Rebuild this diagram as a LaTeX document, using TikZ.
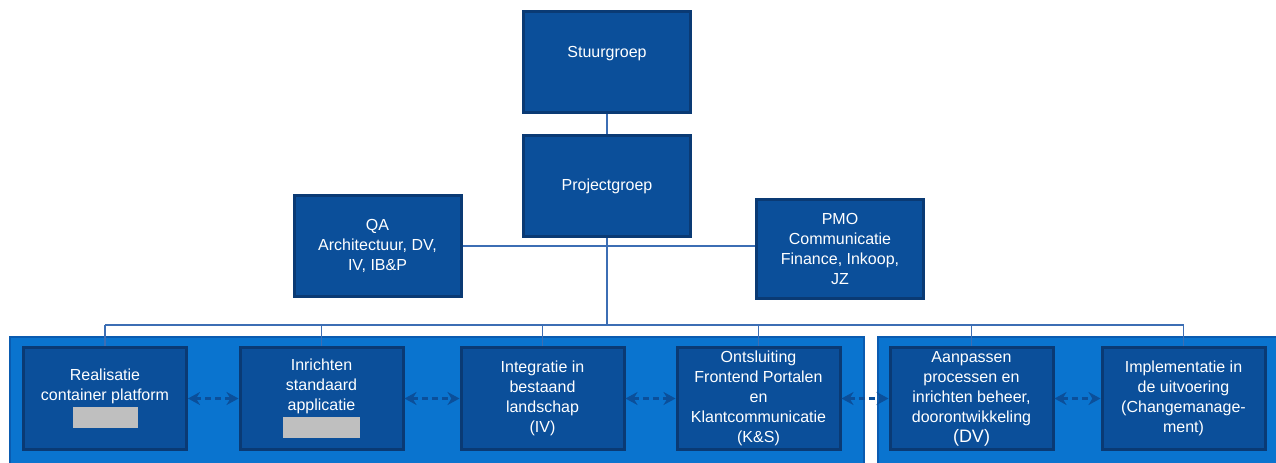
\documentclass[tikz,border=0pt]{standalone}
\usepackage{fontspec}
\setmainfont{Liberation Sans}
\usetikzlibrary{arrows.meta}
\definecolor{boxblue}{HTML}{0B4F9A}
\definecolor{boxedge}{HTML}{0A3A74}
\definecolor{areablue}{HTML}{0A74CF}
\definecolor{areaedge}{HTML}{0A5BB0}
\definecolor{linkblue}{HTML}{3C6EB4}
\definecolor{maskgrey}{HTML}{BFBFBF}
\tikzstyle{unit} = [draw=boxedge,line width=1.5pt,fill=boxblue,text=white,align=center,inner sep=1pt,font=\fontsize{8}{10}\selectfont]
\tikzstyle{topunit} = [unit,minimum width=83.5pt,minimum height=50.5pt]
\tikzstyle{work} = [unit,minimum width=81.5pt,minimum height=51pt]
\tikzstyle{link} = [draw=linkblue,line width=0.6pt]
\tikzstyle{dep} = [boxblue,line width=1.1pt,dash pattern=on 3pt off 2pt,{Stealth[length=6pt,width=6.5pt]}-{Stealth[length=6pt,width=6.5pt]}]
\newcommand{\masked}[1]{\textcolor{maskgrey}{\rule[-4pt]{#1}{10.5pt}}}

\begin{document}
\begin{tikzpicture}[x=0.5pt,y=-0.5pt]
	\useasboundingbox (0,0) rectangle (1276,462);
	\draw[areaedge,fill=areablue,line width=1pt] (10,337) rectangle (864,470);
	\draw[areaedge,fill=areablue,line width=1pt] (878,337) rectangle (1285,470);

	\node[topunit] (stuur) at (607,62) {Stuurgroep\\~};
	\node[topunit] (proj) at (607,186) {Projectgroep};
	\node[topunit] (qa) at (377.5,246) {QA\\Architectuur, DV,\\IV, IB\&P};
	\node[topunit,minimum height=49.5pt] (pmo) at (840,249) {PMO\\Communicatie\\Finance, Inkoop,\\JZ};

	\node[work] (real) at (105,398.5) {Realisatie\\container platform\\\masked{32.5pt}};
	\node[work] (inr) at (321.5,398.5) {Inrichten\\standaard\\applicatie\\\masked{38.5pt}};
	\node[work] (integ) at (542.5,398.5) {Integratie in\\bestaand\\landschap\\(IV)};
	\node[work] (ontsl) at (758.5,398.5) {Ontsluiting\\Frontend Portalen\\en\\Klantcommunicatie\\(K\&S)};
	\node[work] (aanp) at (971.5,398.5) {Aanpassen\\processen en\\inrichten beheer,\\doorontwikkeling\\{\fontsize{9}{10}\selectfont(DV)}};
	\node[work] (impl) at (1183.5,398.5) {Implementatie in\\de uitvoering\\(Changemanage-\\ment)};
	\coordinate (bus) at (607,325);

	\draw[link] (stuur) -- (proj);
	\draw[link] (qa.east) -- (qa.east -| pmo.west);
	\draw[link] (proj) -- (bus);
	\draw[link] (real.north |- bus) -- (impl.north |- bus);
	\foreach \n in {real,inr,integ,ontsl,aanp,impl}
		\draw[link] (\n.north) -- (\n.north |- bus);

	\draw[dep] (real) -- (inr);
	\draw[dep] (inr) -- (integ);
	\draw[dep] (integ) -- (ontsl);
	\draw[dep] (ontsl) -- (aanp);
	\draw[dep] (aanp) -- (impl);
\end{tikzpicture}
\end{document}
